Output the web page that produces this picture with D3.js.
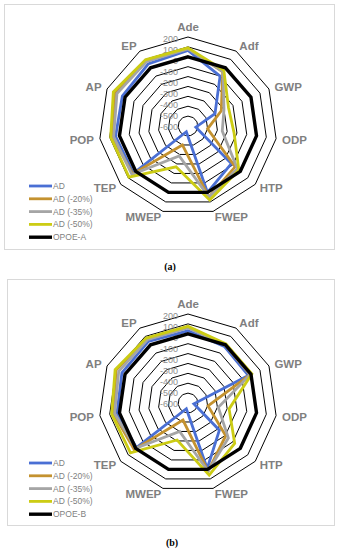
<!DOCTYPE html>
<html>
<head>
<meta charset="utf-8">
<script src="https://cdn.jsdelivr.net/npm/d3@7"></script>
<style>
  body { margin: 0; background: #fff; }
  svg { display: block; }
</style>
</head>
<body>
<script>
// axis names, clockwise from the top
var axes = ["Ade", "Adf", "GWP", "ODP", "HTP", "FWEP", "MWEP", "TEP", "POP", "AP", "EP"];
var ringValues = [200, 100, 0, -100, -200, -300, -400, -500, -600];
var seriesNames = ["AD", "AD (-20%)", "AD (-35%)", "AD (-50%)"];
var seriesColors = ["#4a6fd4", "#c4922f", "#a5a5a5", "#cccc14"];

// chart (a)
var adA    = [65, -100, -400, -620, -120, 0, -640, 30, 40, 30, 45];
var ad20A  = [85, -50, -330, -500, -70, 50, -500, 40, 75, 110, 80];
var ad35A  = [80, -45, -300, -350, -40, 50, -385, 50, 60, 90, 75];
var ad50A  = [90, -30, -250, -230, -20, 80, -270, 90, 90, 130, 95];
var opoeA  = [0, 0, 0, 0, 0, 0, 0, 0, 0, 0, 0];

// chart (b)
var adB    = [30, -20, -30, -640, -280, -10, -640, -10, 25, 35, 40];
var ad20B  = [70, 0, -10, -495, -195, 20, -520, 20, 60, 100, 70];
var ad35B  = [60, -5, -10, -390, -160, 20, -400, 0, 50, 70, 60];
var ad50B  = [75, 10, 10, -280, -75, 60, -310, 70, 80, 110, 80];
var opoeB  = [0, 0, 0, 0, 0, 0, 0, 0, 0, 0, 0];

var W = 341, H = 550;
var svg = d3.select("body").append("svg")
    .attr("width", W)
    .attr("height", H);

var r = d3.scaleLinear().domain([-700, 200]).range([0, 89]);
var angle = d3.scaleLinear().domain([0, axes.length]).range([0, 2 * Math.PI]);
// excel spaces the value labels a little wider than the rings
var tickY = d3.scaleLinear().domain([200, -600]).range([-87, 1]);

var radial = d3.lineRadial()
    .angle(function (d, i) { return angle(i); })
    .radius(function (d) { return r(d); })
    .curve(d3.curveLinearClosed);

function drawRadar(box, cx, cy, series, refName, caption) {
  svg.append("rect")
      .attr("x", box[0] + 0.5).attr("y", box[1] + 0.5)
      .attr("width", box[2]).attr("height", box[3])
      .attr("fill", "none").attr("stroke", "#d9d9d9");

  var g = svg.append("g").attr("transform", "translate(" + cx + "," + cy + ")");

  // grid rings
  g.selectAll(".ring").data(ringValues).enter().append("path")
      .attr("d", function (v) { return radial(axes.map(function () { return v; })); })
      .attr("fill", "none").attr("stroke", "#000").attr("stroke-width", 1);

  // value labels
  g.selectAll(".tick").data(ringValues).enter().append("text")
      .attr("x", -10)
      .attr("y", function (v) { return tickY(v); })
      .attr("dy", "0.35em")
      .attr("text-anchor", "end")
      .attr("font-family", "Liberation Sans, Arial, sans-serif")
      .attr("font-size", 9)
      .attr("fill", "#8c8c8c")
      .text(function (v) { return v; });

  // category labels
  g.selectAll(".cat").data(axes).enter().append("text")
      .attr("x", function (d, i) { return i == 0 ? 0 : 95 * Math.sin(angle(i)); })
      .attr("y", function (d, i) { return -95 * Math.cos(angle(i)); })
      .attr("dy", function (d, i) { return i == 0 ? "0" : "0.35em"; })
      .attr("text-anchor", function (d, i) {
        if (i == 0) return "middle";
        return i <= 5 ? "start" : "end";
      })
      .attr("font-family", "Liberation Sans, Arial, sans-serif")
      .attr("font-size", 11.5)
      .attr("font-weight", "bold")
      .attr("fill", "#7f7f7f")
      .text(function (d) { return d; });

  // series, reference last so it sits on top
  var all = series.map(function (s, i) {
    return { name: seriesNames[i], values: s, color: seriesColors[i], w: 2.8 };
  });
  all.push({ name: refName, values: series.ref, color: "#000", w: 3.4 });

  g.selectAll(".series").data(all).enter().append("path")
      .attr("d", function (d) { return radial(d.values); })
      .attr("fill", "none")
      .attr("stroke", function (d) { return d.color; })
      .attr("stroke-width", function (d) { return d.w; })
      .attr("stroke-linejoin", "miter");

  // legend
  var leg = svg.append("g").attr("transform", "translate(29," + (cy + 60) + ")");
  var item = leg.selectAll(".item").data(all).enter().append("g")
      .attr("transform", function (d, i) { return "translate(0," + (i * 12.8) + ")"; });
  item.append("line")
      .attr("x1", 0).attr("x2", 23)
      .attr("stroke", function (d) { return d.color; })
      .attr("stroke-width", function (d) { return d.w; });
  item.append("text")
      .attr("x", 24).attr("dy", "0.35em")
      .attr("font-family", "Liberation Sans, Arial, sans-serif")
      .attr("font-size", 8.5)
      .attr("fill", "#7f7f7f")
      .text(function (d) { return d.name; });

  svg.append("text")
      .attr("x", caption[1]).attr("y", caption[2])
      .attr("text-anchor", "middle")
      .attr("font-family", "Liberation Serif, Times New Roman, serif")
      .attr("font-weight", "bold")
      .attr("font-size", 10)
      .text(caption[0]);
}

var seriesA = [adA, ad20A, ad35A, ad50A]; seriesA.ref = opoeA;
var seriesB = [adB, ad20B, ad35B, ad50B]; seriesB.ref = opoeB;

drawRadar([4, 4, 330, 245], 188, 126, seriesA, "OPOE-A", ["(a)", 170, 270]);
drawRadar([7, 279, 327, 246], 188, 403, seriesB, "OPOE-B", ["(b)", 172, 546]);
</script>
</body>
</html>
